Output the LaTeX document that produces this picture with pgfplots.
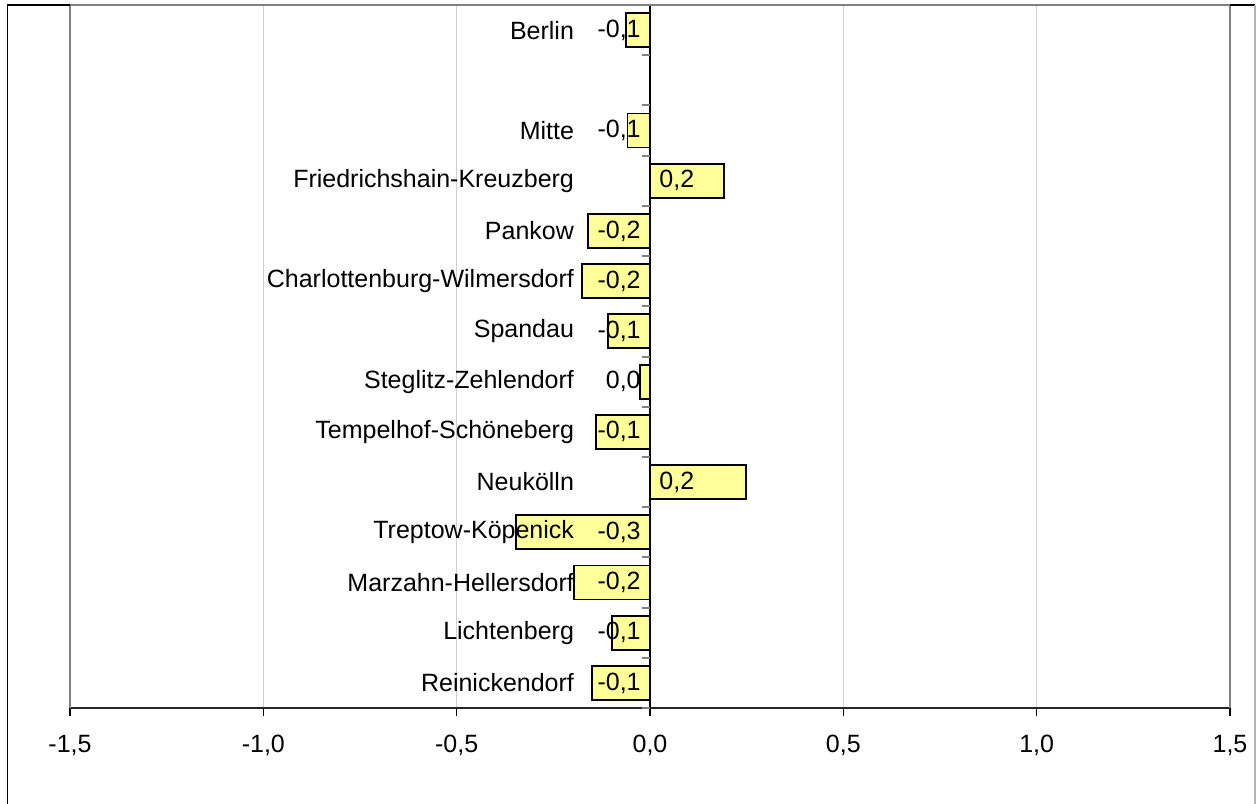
\documentclass[border=0pt]{standalone}
\usepackage{fontspec}
\setmainfont{Liberation Sans}
\usepackage{pgfplots}
\usepackage{pgfplotstable}
\pgfplotsset{compat=1.18}
\usetikzlibrary{calc}
\definecolor{barfill}{HTML}{FFFF99}
\definecolor{framegray}{HTML}{808080}
\definecolor{gridgray}{HTML}{D0D0D0}

% slot 0 = Berlin, slot 1 empty, then the districts
\pgfplotstableread{
y  value
0  -0.063
2  -0.058
3   0.192
4  -0.160
5  -0.175
6  -0.109
7  -0.025
8  -0.140
9   0.248
10 -0.347
11 -0.197
12 -0.098
13 -0.150
}\bars

\pgfplotstableread{
x y label
0 0  -0,1
0 2  -0,1
0 4  -0,2
0 5  -0,2
0 6  -0,1
0 7  0,0
0 8  -0,1
0 10 -0,3
0 11 -0,2
0 12 -0,1
0 13 -0,1
}\neglabels

\pgfplotstableread{
x y label
0 3 0,2
0 9 0,2
}\poslabels

\begin{document}
\begin{tikzpicture}
\begin{axis}[
    name=ax,
    scale only axis,
    width=580pt, height=351.5pt,
    xmin=-1.5, xmax=1.5,
    ymin=-0.5, ymax=13.5,
    y dir=reverse,
    clip=false,
    axis on top,
    axis x line*=bottom,
    axis y line*=middle,
    x axis line style={draw=black!85, line width=1pt},
    y axis line style={draw=black, line width=0.6pt},
    tick align=outside,
    major tick length=4pt,
    xtick={-1.5,-1,-0.5,0,0.5,1,1.5},
    xtick style={draw=black, line width=0.6pt},
    xmajorgrids,
    grid style={gridgray, line width=0.5pt},
    ytick={0,...,13},
    yticklabels={Berlin,,Mitte,Friedrichshain-Kreuzberg,Pankow,Charlottenburg-Wilmersdorf,Spandau,Steglitz-Zehlendorf,Tempelhof-Schöneberg,Neukölln,Treptow-Köpenick,Marzahn-Hellersdorf,Lichtenberg,Reinickendorf},
    ytick style={draw=none},
    extra y ticks={-0.5,0.5,1.5,2.5,3.5,4.5,5.5,6.5,7.5,8.5,9.5,10.5,11.5,12.5,13.5},
    extra y tick labels={},
    extra y tick style={ytick style={draw=framegray, line width=1pt}},
    ticklabel style={font=\fontsize{12.5}{15}\selectfont, text=black},
    xticklabel style={yshift=-6pt,
        /pgf/number format/use comma,
        /pgf/number format/fixed,
        /pgf/number format/fixed zerofill,
        /pgf/number format/precision=1,
        /pgf/number format/assume math mode=true},
    yticklabel style={xshift=-30.5pt},
]
\addplot[xbar, bar width=17pt, fill=barfill, draw=black, line width=0.9pt]
    table[x=value, y=y] {\bars};
\addplot[draw=none, mark=none, nodes near coords, point meta=explicit symbolic,
    nodes near coords style={anchor=east, inner sep=0pt, xshift=-4.5pt,
        font=\fontsize{12.5}{15}\selectfont, text=black}]
    table[x=x, y=y, meta=label] {\neglabels};
\addplot[draw=none, mark=none, nodes near coords, point meta=explicit symbolic,
    nodes near coords style={anchor=west, inner sep=0pt, xshift=4.5pt,
        font=\fontsize{12.5}{15}\selectfont, text=black}]
    table[x=x, y=y, meta=label] {\poslabels};
\end{axis}
\pgfresetboundingbox
\path[use as bounding box] ($(ax.south west)+(-35pt,-47.5pt)$) rectangle ($(ax.north east)+(13pt,2.5pt)$);
% plot area frame
\draw[framegray, line width=0.8pt] (ax.south west) -- (ax.north west) -- (ax.north east) -- (ax.south east);
% chart border
\draw[black, line width=0.8pt] ($(ax.south west)+(-31.25pt,-60pt)$) |- (ax.north west);
\draw[black, line width=0.8pt] (ax.north east) -- ++(12.5pt,0);
\draw[black!30, line width=0.6pt] ($(ax.north east)+(12.5pt,0)$) -- ++(0,-420pt);
\end{tikzpicture}
\end{document}
